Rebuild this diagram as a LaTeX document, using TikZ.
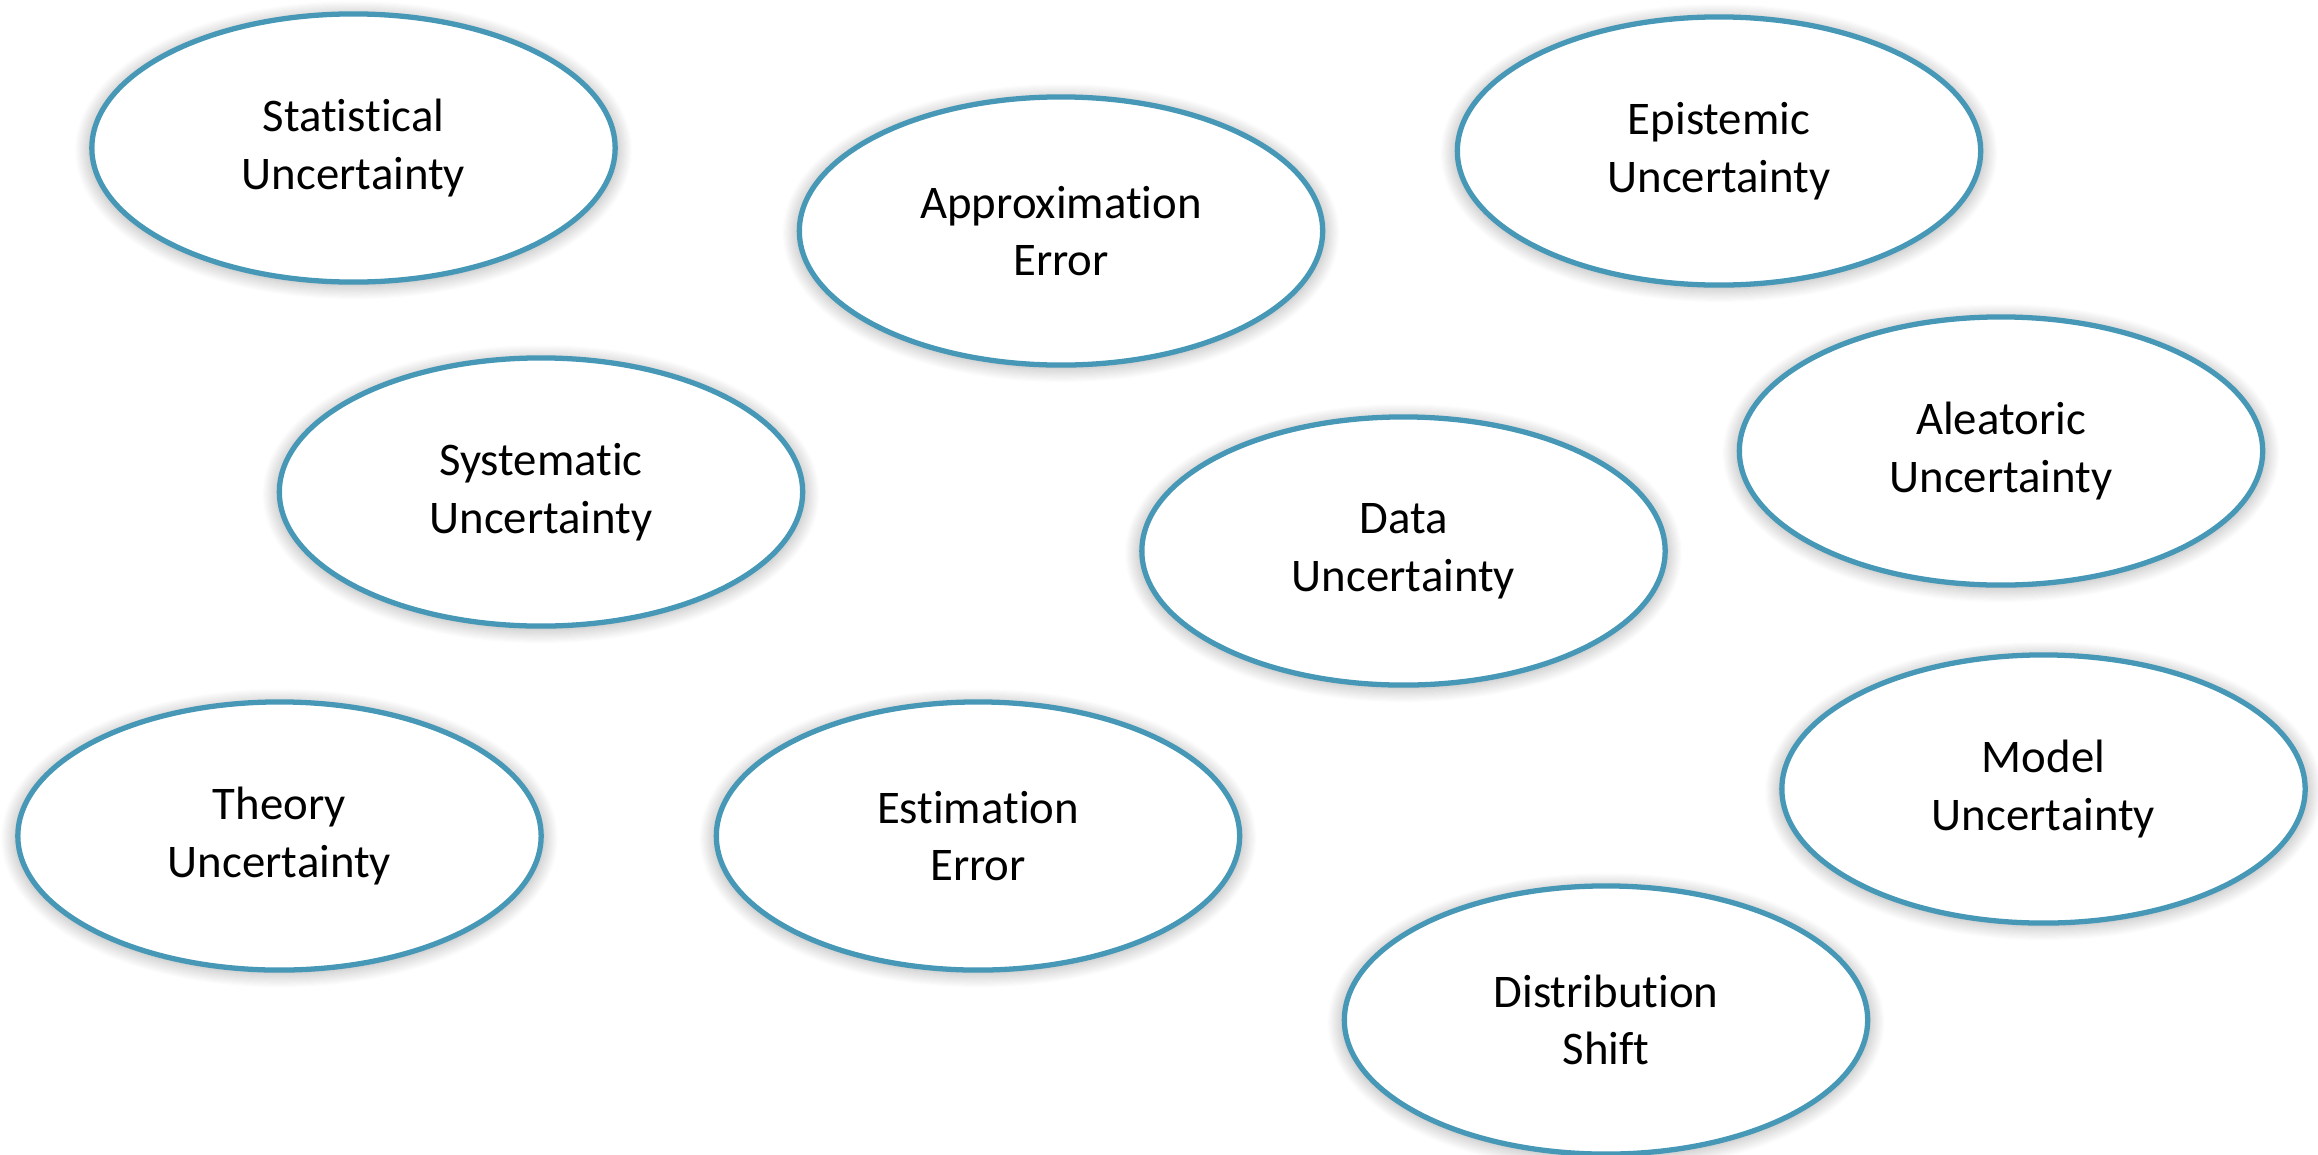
\documentclass[tikz,border=0pt]{standalone}
\usepackage{fontspec}
\setmainfont{Carlito}[Ligatures=NoCommon]
\usetikzlibrary{shapes.geometric,shadows.blur}
\definecolor{ovalblue}{RGB}{70,152,182}
\tikzset{
  oval/.style={ellipse, draw=ovalblue, line width=1.5pt, fill=white,
    minimum width=5.23cm, minimum height=2.68cm, inner sep=0pt,
    align=center, font=\fontsize{13.3}{16.4}\selectfont,
    blur shadow={shadow xshift=0pt, shadow yshift=-0.6pt, shadow scale=1.012,
      shadow blur radius=4pt, shadow blur steps=14, shadow opacity=32}}
}
\begin{document}
\begin{tikzpicture}[x=0.01cm,y=-0.01cm]
\useasboundingbox (0,0) rectangle (2318,1154);
\node[oval] (stat)  at (353.5,148)  {Statistical\\Uncertainty};
\node[oval] (approx) at (1061,231)  {Approximation\\Error};
\node[oval] (epist) at (1719,151)   {Epistemic\\Uncertainty};
\node[oval] (syst)  at (541,492)    {Systematic\\Uncertainty};
\node[oval] (data)  at (1403.5,551) {Data\\Uncertainty};
\node[oval] (aleat) at (2001,451)   {Aleatoric\\Uncertainty};
\node[oval] (theory) at (279.5,836) {Theory\\Uncertainty};
\node[oval] (estim) at (978,836)    {Estimation\\Error};
\node[oval] (model) at (2043.5,789) {Model\\Uncertainty};
\node[oval] (distr) at (1606,1020)  {Distribution\\Shift};
\end{tikzpicture}
\end{document}
